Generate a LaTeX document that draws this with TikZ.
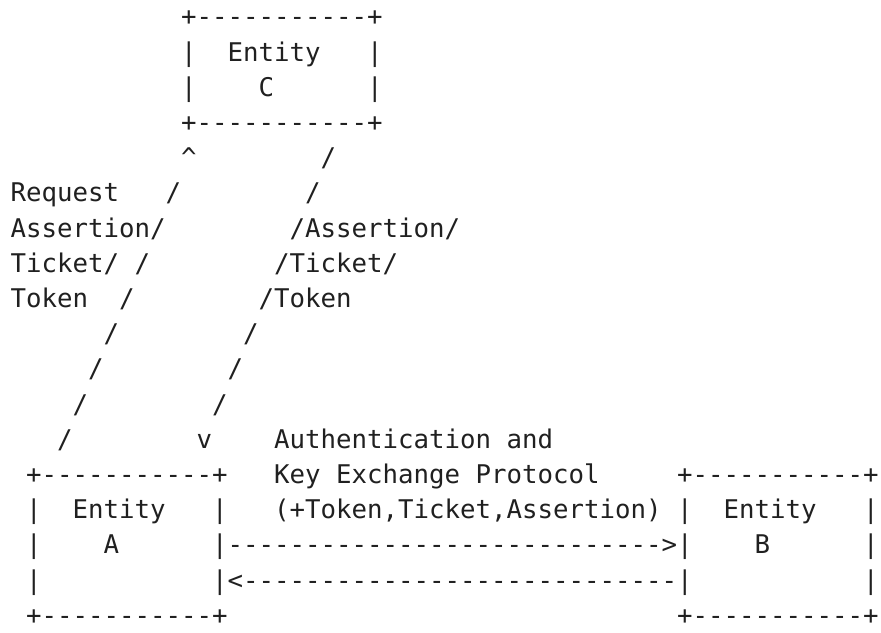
\documentclass[tikz,border=0pt]{standalone}
\usepackage{fontspec}
\setmonofont{DejaVu Sans Mono}
\definecolor{ink}{HTML}{202020}
\newcommand\xo{10.5}
\newcommand\cwd{15.5}
\newcommand\rowh{35.2}
\newcommand\seg[4]{\node[txt] (#1) at ({\xo+#2*\cwd},{25.85+#3*\rowh}) {#4};}
\begin{document}
\frenchspacing
\begin{tikzpicture}[x=1pt,y=-1pt,
  txt/.style={anchor=base west,inner sep=0pt,outer sep=0pt,
    font=\ttfamily\fontsize{25.75}{30}\selectfont,text=ink}]
\useasboundingbox (0,0) rectangle (881,632);
% Entity C
\seg{cTop}{11}{0}{+-----------+}
\seg{cL1}{11}{1}{|}
\seg{cName}{14}{1}{Entity}
\seg{cR1}{23}{1}{|}
\seg{cL2}{11}{2}{|}
\seg{cLetter}{16}{2}{C}
\seg{cR2}{23}{2}{|}
\seg{cBot}{11}{3}{+-----------+}
% links
\seg{upHead}{11}{4}{\textasciicircum}
\seg{dnA}{20}{4}{/}
\seg{lblReq}{0}{5}{Request}
\seg{upA}{10}{5}{/}
\seg{dnB}{19}{5}{/}
\seg{lblAssL}{0}{6}{Assertion/}
\seg{lblAssR}{18}{6}{/Assertion/}
\seg{lblTicL}{0}{7}{Ticket/}
\seg{upB}{8}{7}{/}
\seg{lblTicR}{17}{7}{/Ticket/}
\seg{lblTokL}{0}{8}{Token}
\seg{upC}{7}{8}{/}
\seg{lblTokR}{16}{8}{/Token}
\seg{upD}{6}{9}{/}
\seg{dnC}{15}{9}{/}
\seg{upE}{5}{10}{/}
\seg{dnD}{14}{10}{/}
\seg{upF}{4}{11}{/}
\seg{dnE}{13}{11}{/}
\seg{upG}{3}{12}{/}
\seg{dnHead}{12}{12}{v}
\seg{lblAuth}{17}{12}{Authentication and}
% Entity A, protocol, Entity B
\seg{aTop}{1}{13}{+-----------+}
\seg{lblKey}{17}{13}{Key Exchange Protocol}
\seg{bTop}{43}{13}{+-----------+}
\seg{aL1}{1}{14}{|}
\seg{aName}{4}{14}{Entity}
\seg{aR1}{13}{14}{|}
\seg{lblTok}{17}{14}{(+Token,Ticket,Assertion)}
\seg{bL1}{43}{14}{|}
\seg{bName}{46}{14}{Entity}
\seg{bR1}{55}{14}{|}
\seg{aL2}{1}{15}{|}
\seg{aLetter}{6}{15}{A}
\seg{fwd}{13}{15}{|---------------------------->|}
\seg{bLetter}{48}{15}{B}
\seg{bR2}{55}{15}{|}
\seg{aL3}{1}{16}{|}
\seg{bwd}{13}{16}{|<----------------------------|}
\seg{bR3}{55}{16}{|}
\seg{aBot}{1}{17}{+-----------+}
\seg{bBot}{43}{17}{+-----------+}
\end{tikzpicture}
\end{document}
